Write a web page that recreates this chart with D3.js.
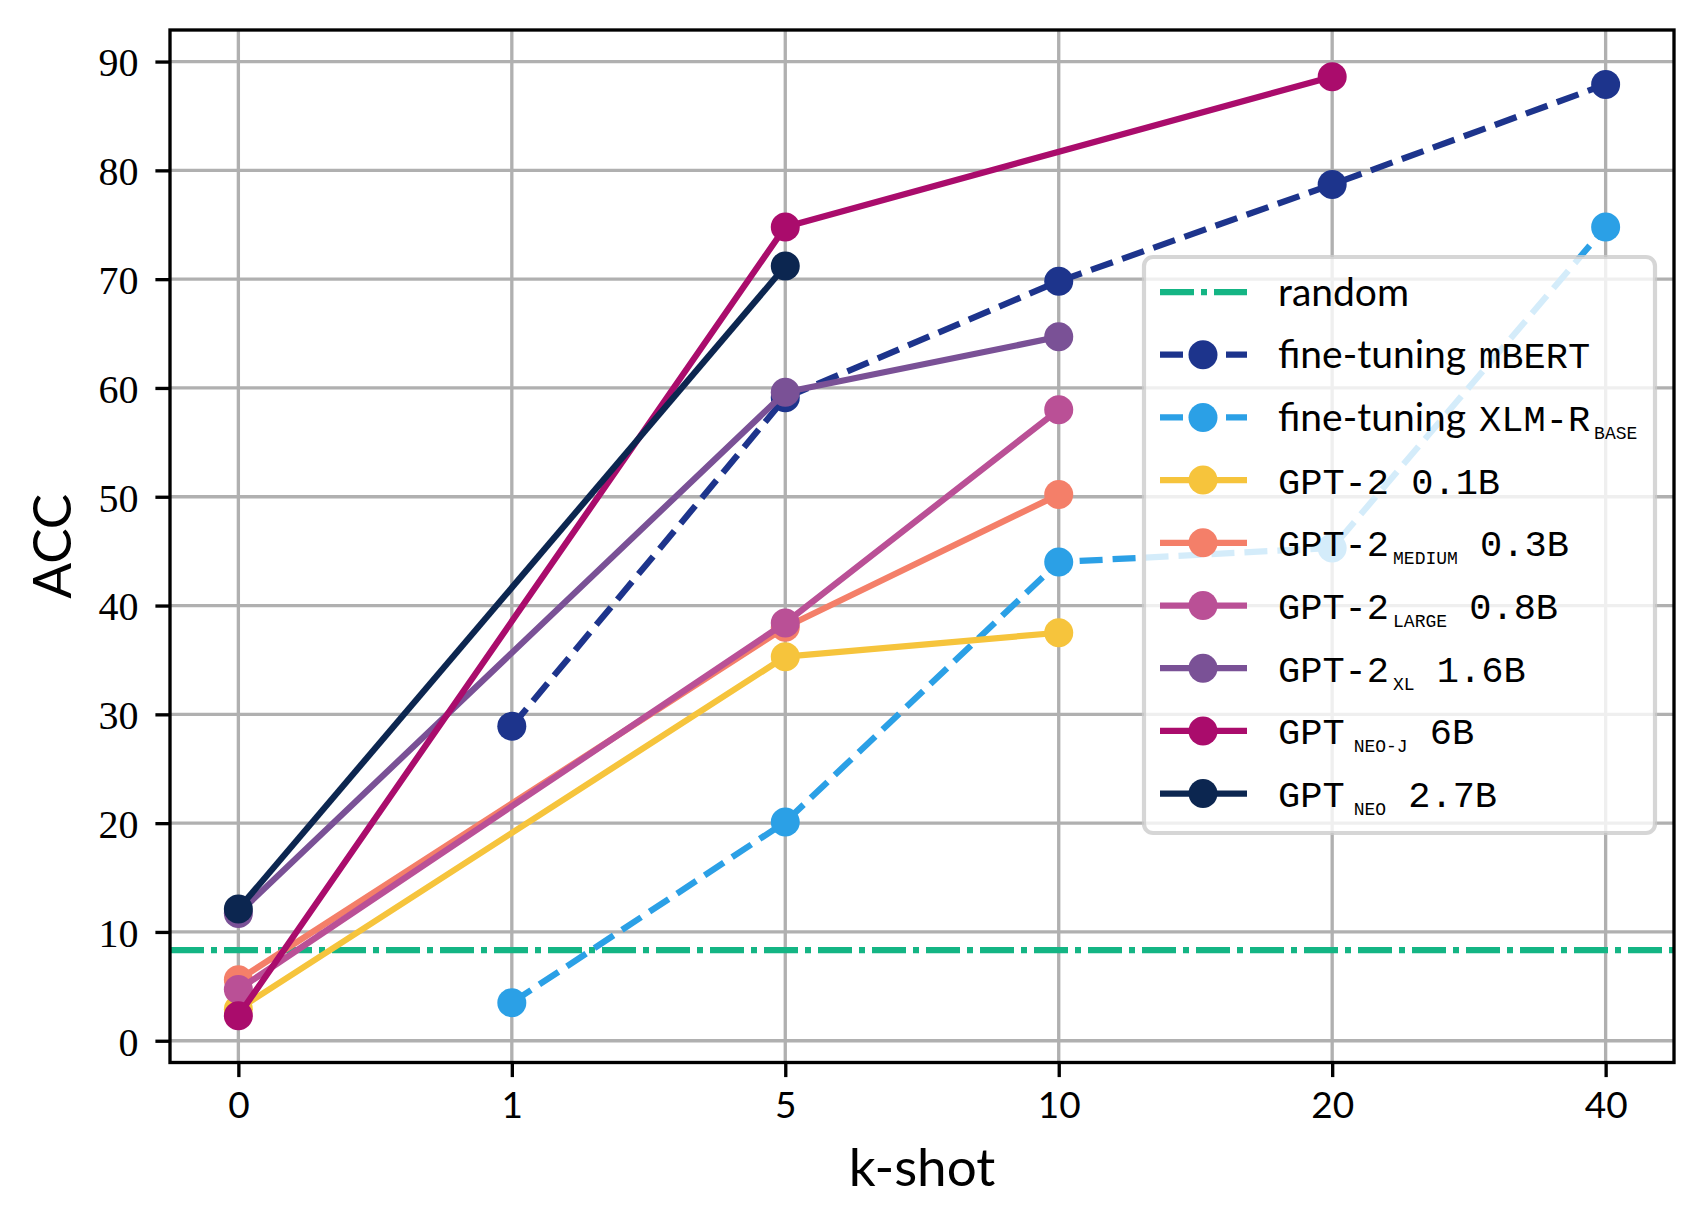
<!DOCTYPE html>
<html>
<head>
<meta charset="utf-8">
<script src="https://cdn.jsdelivr.net/npm/d3@7/dist/d3.min.js"></script>
<style>
  html, body { margin: 0; padding: 0; background: #fff; }
  svg { display: block; }
</style>
</head>
<body>
<svg id="chart" width="1703" height="1226"></svg>
<script>
/*********************
 * Data
 *********************/
const kShots = ['0', '1', '5', '10', '20', '40'];
const yTicks = [0, 10, 20, 30, 40, 50, 60, 70, 80, 90];

const randomAcc = 8.33;
const mbert      = [null, 28.9, 59.1, 69.8, 78.7, 87.9];
const xlmrBase   = [null, 3.5, 20.1, 44.0, 45.3, 74.8];
const gpt2       = [2.9, null, 35.3, 37.5, null, null];
const gpt2Medium = [5.6, null, 38.0, 50.2, null, null];
const gpt2Large  = [4.7, null, 38.4, 58.0, null, null];
const gpt2Xl     = [11.7, null, 59.6, 64.7, null, null];
const gptNeoJ    = [2.3, null, 74.8, null, 88.6, null];
const gptNeo     = [12.1, null, 71.2, null, null, null];

/*********************
 * Styles
 *********************/
const SANS = 'Lato, "Noto Sans", sans-serif';
const SERIF = '"Liberation Serif", "DejaVu Serif", serif';
const MONO = '"Liberation Mono", "DejaVu Sans Mono", monospace';

const LW = 6.25;          // 1.5pt at 300dpi
const THIN = 3.33;        // 0.8pt
const MARKER_R = 14.5;
const DASHED = '23 10';
const DASHDOT = '34 7 6 7';

// Plot order == legend order (later ones sit on top).
const series = [
  {values: mbert,      color: '#1d348c', dash: DASHED,
   label: [{t: 'fine-tuning', f: 'sans'}, {t: 'mBERT', f: 'mono', dx: 13}]},
  {values: xlmrBase,   color: '#2ba0e6', dash: DASHED,
   label: [{t: 'fine-tuning', f: 'sans'}, {t: 'XLM-R', f: 'mono', dx: 13}, {t: 'BASE', f: 'sub', dx: 4}]},
  {values: gpt2,       color: '#f6c43c', dash: null,
   label: [{t: 'GPT-2 0.1B', f: 'mono'}]},
  {values: gpt2Medium, color: '#f47f69', dash: null,
   label: [{t: 'GPT-2', f: 'mono'}, {t: 'MEDIUM', f: 'sub', dx: 4}, {t: '\u00a00.3B', f: 'mono'}]},
  {values: gpt2Large,  color: '#ba5096', dash: null,
   label: [{t: 'GPT-2', f: 'mono'}, {t: 'LARGE', f: 'sub', dx: 4}, {t: '\u00a00.8B', f: 'mono'}]},
  {values: gpt2Xl,     color: '#7a5196', dash: null,
   label: [{t: 'GPT-2', f: 'mono'}, {t: 'XL', f: 'sub', dx: 4}, {t: '\u00a01.6B', f: 'mono'}]},
  {values: gptNeoJ,    color: '#aa0c6c', dash: null,
   label: [{t: 'GPT', f: 'mono'}, {t: 'NEO-J', f: 'sub', dx: 9}, {t: '\u00a06B', f: 'mono'}]},
  {values: gptNeo,     color: '#0c2650', dash: null,
   label: [{t: 'GPT', f: 'mono'}, {t: 'NEO', f: 'sub', dx: 9}, {t: '\u00a02.7B', f: 'mono'}]},
];
const randomColor = '#14b584';

/*********************
 * Scales & frame
 *********************/
const box = {left: 170, right: 1674, top: 30, bottom: 1062.5};

const x = d3.scalePoint()
  .domain(kShots)
  .range([box.left, box.right])
  .padding(0.25);

const y = d3.scaleLinear()
  .domain([-2.0, 92.9])
  .range([box.bottom, box.top]);

const svg = d3.select('#chart');

// Grid first (below the lines).
const grid = svg.append('g').attr('stroke', '#b0b0b0').attr('stroke-width', THIN);
grid.selectAll('line.gx')
  .data(kShots)
  .enter().append('line')
  .attr('x1', d => x(d)).attr('x2', d => x(d))
  .attr('y1', box.top).attr('y2', box.bottom);
grid.selectAll('line.gy')
  .data(yTicks)
  .enter().append('line')
  .attr('y1', d => y(d)).attr('y2', d => y(d))
  .attr('x1', box.left).attr('x2', box.right);

/*********************
 * Lines & markers
 *********************/
const plot = svg.append('g');

const line = d3.line()
  .x(d => x(d.k))
  .y(d => y(d.v));

// random baseline
plot.append('line')
  .attr('x1', box.left).attr('x2', box.right)
  .attr('y1', y(randomAcc)).attr('y2', y(randomAcc))
  .attr('stroke', randomColor)
  .attr('stroke-width', LW)
  .attr('stroke-dasharray', DASHDOT);

series.forEach(s => {
  // matplotlib only gets the points that exist, so gaps are bridged.
  const pts = kShots.map((k, i) => ({k, v: s.values[i]})).filter(p => p.v != null);
  const g = plot.append('g');
  g.append('path')
    .attr('d', line(pts))
    .attr('fill', 'none')
    .attr('stroke', s.color)
    .attr('stroke-width', LW)
    .attr('stroke-dasharray', s.dash)
    .attr('stroke-linejoin', 'round');
  g.selectAll('circle')
    .data(pts)
    .enter().append('circle')
    .attr('cx', d => x(d.k))
    .attr('cy', d => y(d.v))
    .attr('r', MARKER_R)
    .attr('fill', s.color);
});

/*********************
 * Axes
 *********************/
const yAxis = svg.append('g')
  .attr('transform', `translate(${box.left},0)`)
  .call(d3.axisLeft(y).tickValues(yTicks).tickSize(14.6).tickPadding(17));
yAxis.select('.domain').remove();
yAxis.selectAll('line').attr('stroke', '#000').attr('stroke-width', THIN);
yAxis.selectAll('text')
  .attr('fill', '#000')
  .attr('dy', '0.36em')
  .style('font-family', SERIF)
  .style('font-size', '40px');

const xAxis = svg.append('g')
  .attr('transform', `translate(0,${box.bottom})`)
  .call(d3.axisBottom(x).tickSize(14.6).tickPadding(15));
xAxis.select('.domain').remove();
xAxis.selectAll('line').attr('stroke', '#000').attr('stroke-width', THIN);
xAxis.selectAll('text')
  .attr('fill', '#000')
  .style('font-family', SANS)
  .style('font-size', '37px');

// frame on top of the lines
svg.append('rect')
  .attr('x', box.left).attr('y', box.top)
  .attr('width', box.right - box.left)
  .attr('height', box.bottom - box.top)
  .attr('fill', 'none')
  .attr('stroke', '#000')
  .attr('stroke-width', THIN);

svg.append('text')
  .attr('x', (box.left + box.right) / 2)
  .attr('y', 1186)
  .attr('text-anchor', 'middle')
  .style('font-family', SANS)
  .style('font-size', '53px')
  .text('k-shot');

svg.append('text')
  .attr('transform', `translate(71,${(box.top + box.bottom) / 2}) rotate(-90)`)
  .attr('text-anchor', 'middle')
  .style('font-family', SANS)
  .style('font-size', '53px')
  .text('ACC');

/*********************
 * Legend
 *********************/
const legendItems = [
  {color: randomColor, dash: DASHDOT, marker: false, label: [{t: 'random', f: 'sans'}]},
  ...series.map(s => ({color: s.color, dash: s.dash, marker: true, label: s.label}))
];

const legend = svg.append('g');
legend.append('rect')
  .attr('x', 1144).attr('y', 257)
  .attr('width', 511).attr('height', 576)
  .attr('rx', 9).attr('ry', 9)
  .attr('fill', '#fff').attr('fill-opacity', 0.8)
  .attr('stroke', '#cccccc').attr('stroke-opacity', 0.8)
  .attr('stroke-width', 4.2);

const rowY = i => 292 + i * 62.7;
const fontFor = {
  sans: {family: SANS, size: '39px'},
  mono: {family: MONO, size: '37px'},
  sub:  {family: MONO, size: '18px'},
};

legendItems.forEach((item, i) => {
  const cy = rowY(i);
  legend.append('line')
    .attr('x1', 1160).attr('x2', 1247)
    .attr('y1', cy).attr('y2', cy)
    .attr('stroke', item.color)
    .attr('stroke-width', LW)
    .attr('stroke-dasharray', item.dash);
  if (item.marker) {
    legend.append('circle')
      .attr('cx', 1203).attr('cy', cy)
      .attr('r', MARKER_R)
      .attr('fill', item.color);
  }
  const text = legend.append('text')
    .attr('x', 1278)
    .attr('y', cy + 13.5)
    .attr('fill', '#000')
    .attr('xml:space', 'preserve');
  let down = 0;
  item.label.forEach(part => {
    const f = fontFor[part.f];
    const shift = part.f === 'sub' ? 8 : 0;
    text.append('tspan')
      .attr('dx', part.dx || 0)
      .attr('dy', shift - down)
      .style('font-family', f.family)
      .style('font-size', f.size)
      .text(part.t);
    down = shift;
  });
});
</script>
</body>
</html>
